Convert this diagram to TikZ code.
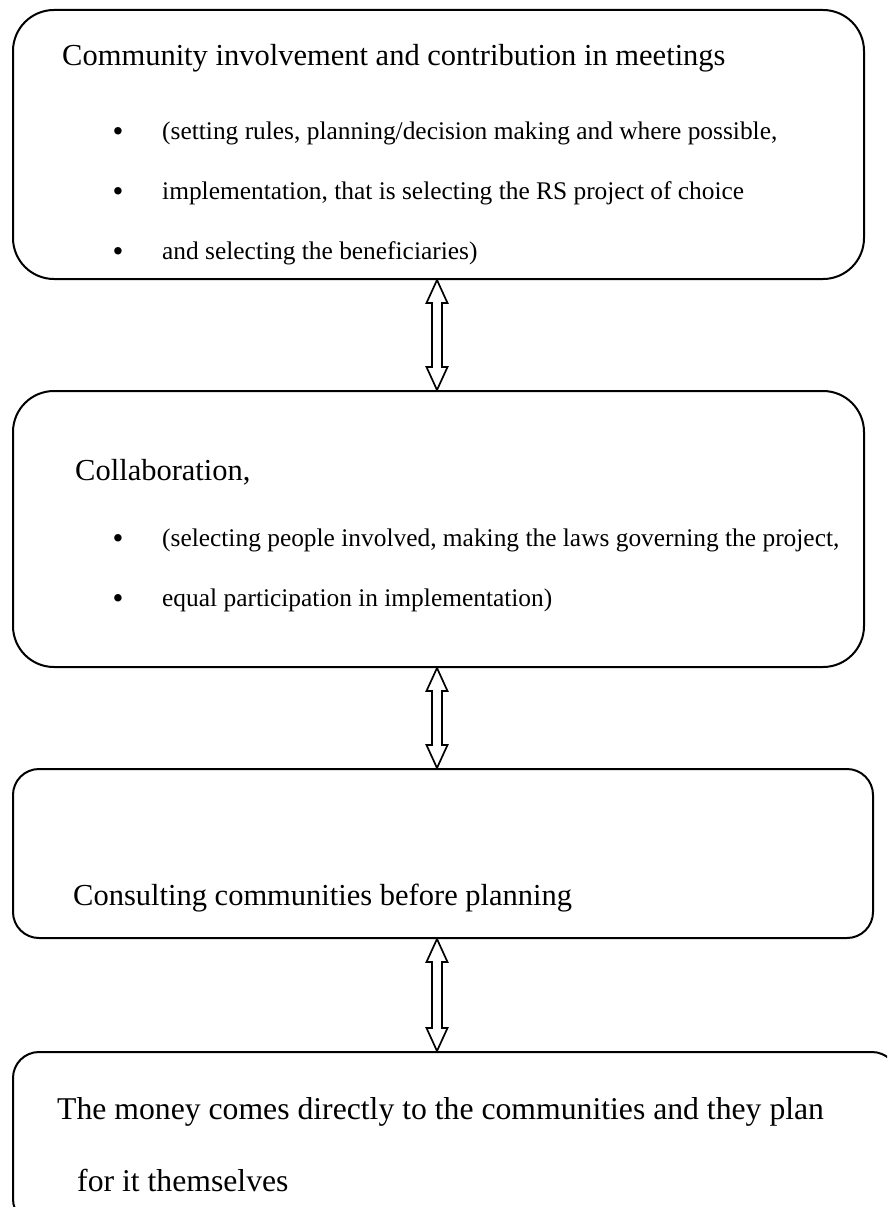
\documentclass[tikz,border=0pt]{standalone}
\usepackage{fontspec}
\setmainfont{Liberation Serif}
\usetikzlibrary{calc}

% outline of a vertical two-headed block arrow between two tip points
\newcommand\twinarrow[2]{%
  \draw[arrowline] (#1) -- ++(10.5,23) -- ++(-5.5,0) -- ($(#2)+(5,-23)$)
    -- ++(5.5,0) -- (#2) -- ++(-10.5,-23) -- ++(5.5,0) -- ($(#1)+(-5,23)$)
    -- ++(-5.5,0) -- cycle;}

\begin{document}
\begin{tikzpicture}[x=1pt,y=-1pt,
  stage/.style={draw, line width=2pt, inner sep=0pt, rounded corners=#1},
  arrowline/.style={draw, line width=1.7pt, line join=miter, fill=white},
  head/.style={anchor=base west, inner sep=0pt, font=\fontsize{30.5}{36}\selectfont},
  bighead/.style={anchor=base west, inner sep=0pt, font=\fontsize{31.7}{38}\selectfont},
  item/.style={anchor=base west, inner sep=0pt, font=\fontsize{25.4}{30}\selectfont},
  dot/.style={anchor=base, inner sep=0pt, font=\fontsize{31}{36}\selectfont}]

\useasboundingbox (0,0) rectangle (887,1207);
\clip (0,0) rectangle (887,1207);

% the four stages
\node[stage=41pt, minimum width=851pt, minimum height=269pt] (b1) at (438.5,144.5) {};
\node[stage=41pt, minimum width=851pt, minimum height=276pt] (b2) at (438.5,529) {};
\node[stage=26pt, minimum width=860pt, minimum height=169pt] (b3) at (443,853.5) {};
\node[stage=26pt, minimum width=885pt, minimum height=173pt] (b4) at (455.5,1138.5) {};

% texts of stage 1
\node[head] (h1) at (62,66) {Community involvement and contribution in meetings};
\node[dot] (d11) at (118,141) {•};
\node[item] (i11) at (162,139) {(setting rules, planning/decision making and where possible,};
\node[dot] (d12) at (118,201) {•};
\node[item] (i12) at (162,199) {implementation, that is selecting the RS project of choice};
\node[dot] (d13) at (118,261) {•};
\node[item] (i13) at (162,259) {and selecting the beneficiaries)};

% texts of stage 2
\node[head] (h2) at (75,480) {Collaboration,};
\node[dot] (d21) at (118,548) {•};
\node[item] (i21) at (162,546) {(selecting people involved, making the laws governing the project,};
\node[dot] (d22) at (118,608) {•};
\node[item] (i22) at (162,606) {equal participation in implementation)};

% text of stage 3
\node[head] (h3) at (73,905) {Consulting communities before planning};

% texts of stage 4
\node[bighead] (h4) at (57,1119) {The money comes directly to the communities and they plan};
\node[bighead] (h5) at (77,1191) {for it themselves};

% links between stages
\coordinate (axis) at (437,0);
\coordinate (t1) at (b1.south -| axis);
\coordinate (u1) at (b2.north -| axis);
\coordinate (t2) at (b2.south -| axis);
\coordinate (u2) at (b3.north -| axis);
\coordinate (t3) at (b3.south -| axis);
\coordinate (u3) at (b4.north -| axis);
\twinarrow{t1}{u1}
\twinarrow{t2}{u2}
\twinarrow{t3}{u3}
\end{tikzpicture}
\end{document}
